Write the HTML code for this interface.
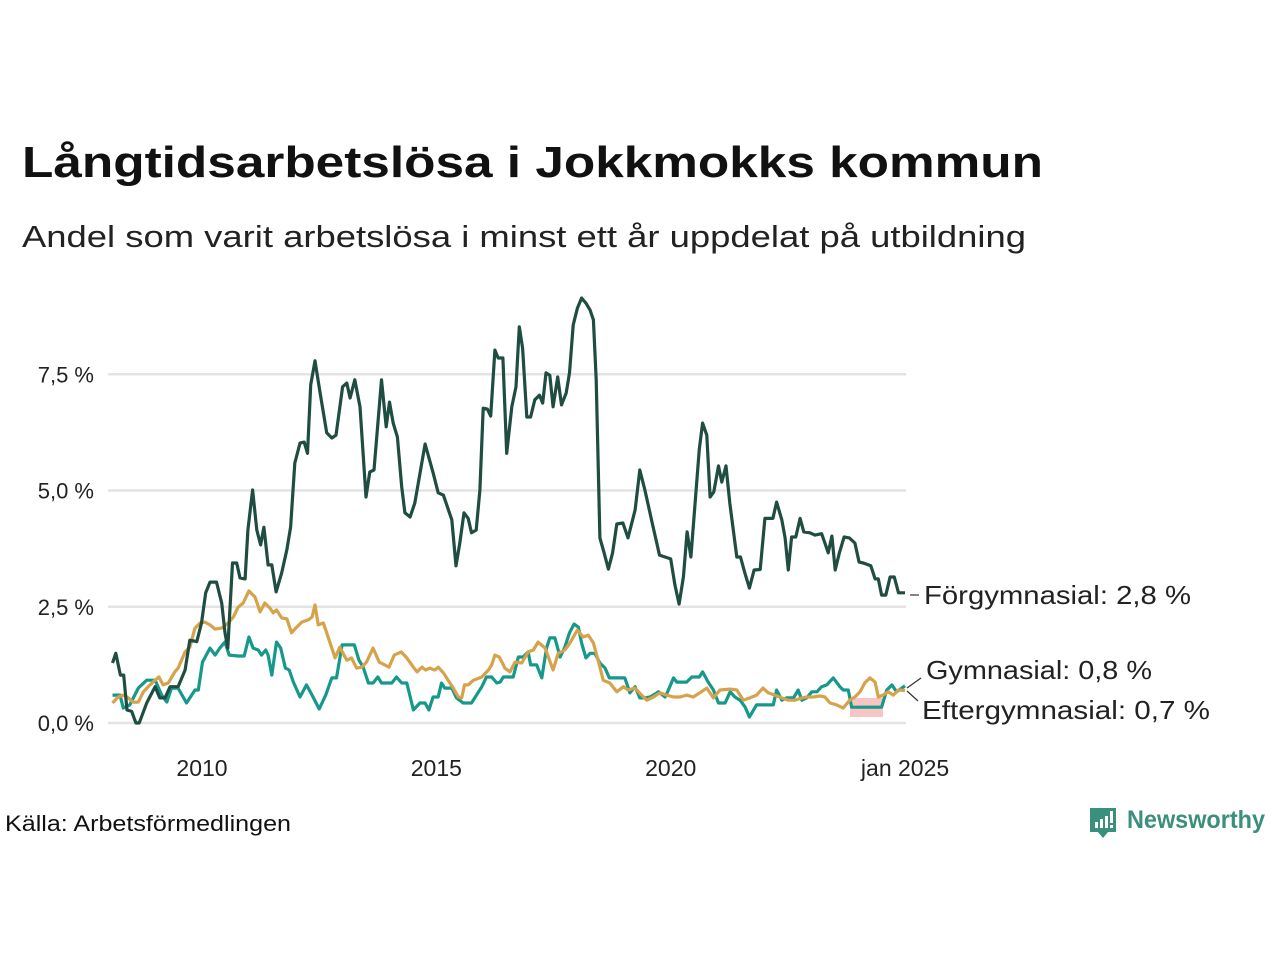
<!DOCTYPE html>
<html><head><meta charset="utf-8"><style>
html,body{margin:0;padding:0;background:#fff;}
svg{display:block;font-family:"Liberation Sans","DejaVu Sans",sans-serif;}
</style></head><body>
<svg id="chart" width="1280" height="960" viewBox="0 0 1280 960" xmlns="http://www.w3.org/2000/svg">
<text x="22" y="177" font-size="44" font-weight="bold" fill="#111" textLength="1021" lengthAdjust="spacingAndGlyphs">Långtidsarbetslösa i Jokkmokks kommun</text>
<text x="22" y="247" font-size="31" fill="#222" textLength="1004" lengthAdjust="spacingAndGlyphs">Andel som varit arbetslösa i minst ett år uppdelat på utbildning</text>
<g id="grid"></g>
<g id="yticks"></g>
<g id="xticks"></g>
<rect x="850" y="698" width="33" height="19" fill="#f9c4c4"/>
<g id="series"></g>
<g font-size="26" fill="#222">
<line x1="910" y1="595" x2="919" y2="595" stroke="#333" stroke-width="1.2"/>
<line x1="907" y1="688" x2="921" y2="678" stroke="#333" stroke-width="1.2"/>
<line x1="907" y1="691" x2="918" y2="701" stroke="#333" stroke-width="1.2"/>
<text x="924" y="604" textLength="267" lengthAdjust="spacingAndGlyphs">Förgymnasial: 2,8 %</text>
<text x="926" y="679" textLength="226" lengthAdjust="spacingAndGlyphs">Gymnasial: 0,8 %</text>
<text x="922" y="719" textLength="288" lengthAdjust="spacingAndGlyphs">Eftergymnasial: 0,7 %</text>
</g>
<text x="5" y="831" font-size="22" fill="#111" textLength="286" lengthAdjust="spacingAndGlyphs">Källa: Arbetsförmedlingen</text>
<g>
<path d="M1090 808 h26 v24 h-8 l-5 6 l-5 -6 h-8 z" fill="#3a8f7d"/>
<rect x="1095" y="822" width="3" height="6" fill="#fff"/><rect x="1100" y="819" width="3" height="9" fill="#fff"/><rect x="1105" y="816" width="3" height="12" fill="#fff"/><rect x="1110" y="811" width="3" height="12" fill="#fff"/><rect x="1110" y="825" width="3" height="3" fill="#fff"/>
<text x="1127" y="828" font-size="25" font-weight="bold" fill="#3a8f7d" textLength="138" lengthAdjust="spacingAndGlyphs">Newsworthy</text>
</g>
</svg>
<script>
const yTicks = [0, 2.5, 5, 7.5];
const yTickLabels = ["0,0 %", "2,5 %", "5,0 %", "7,5 %"];
const xTicks = [2010, 2015, 2020, 2025];
const xTickLabels = ["2010", "2015", "2020", "jan 2025"];

const forgDates = [2008.09,2008.16,2008.26,2008.33,2008.40,2008.50,2008.59,2008.66,2008.82,2009.00,2009.10,2009.21,2009.32,2009.49,2009.64,2009.74,2009.89,2009.99,2010.08,2010.17,2010.31,2010.42,2010.49,2010.55,2010.65,2010.74,2010.81,2010.92,2010.98,2011.08,2011.17,2011.25,2011.32,2011.41,2011.49,2011.58,2011.70,2011.81,2011.89,2011.98,2012.09,2012.18,2012.25,2012.32,2012.41,2012.52,2012.66,2012.77,2012.86,2013.00,2013.09,2013.16,2013.26,2013.37,2013.50,2013.58,2013.67,2013.83,2013.93,2014.00,2014.08,2014.17,2014.26,2014.33,2014.44,2014.54,2014.76,2014.93,2015.04,2015.15,2015.33,2015.42,2015.50,2015.59,2015.68,2015.75,2015.85,2015.93,2016.00,2016.09,2016.16,2016.25,2016.32,2016.42,2016.50,2016.61,2016.70,2016.77,2016.84,2016.93,2017.01,2017.10,2017.20,2017.27,2017.34,2017.42,2017.49,2017.59,2017.67,2017.77,2017.84,2017.92,2018.01,2018.10,2018.19,2018.28,2018.35,2018.41,2018.49,2018.58,2018.67,2018.76,2018.85,2018.98,2019.09,2019.24,2019.34,2019.45,2019.59,2019.76,2019.88,2020.00,2020.09,2020.18,2020.27,2020.35,2020.43,2020.52,2020.61,2020.68,2020.77,2020.84,2020.92,2021.02,2021.09,2021.18,2021.26,2021.41,2021.49,2021.58,2021.68,2021.78,2021.91,2022.01,2022.18,2022.26,2022.37,2022.44,2022.51,2022.58,2022.67,2022.76,2022.84,2022.97,2023.08,2023.22,2023.29,2023.36,2023.44,2023.51,2023.60,2023.70,2023.81,2023.93,2024.02,2024.11,2024.27,2024.36,2024.43,2024.50,2024.59,2024.68,2024.77,2024.86,2025.00];
const forgValues = [1.29,1.5,1.03,1.03,0.28,0.25,0,0,0.43,0.78,0.54,0.54,0.78,0.78,1.14,1.78,1.75,2.15,2.8,3.03,3.03,2.58,1.94,1.61,3.44,3.44,3.12,3.1,4.15,5.01,4.15,3.83,4.21,3.4,3.4,2.82,3.23,3.72,4.21,5.59,6.02,6.04,5.8,7.27,7.79,7.1,6.24,6.13,6.19,7.23,7.31,6.99,7.38,6.8,4.86,5.4,5.44,7.38,6.37,6.9,6.45,6.15,5.08,4.52,4.43,4.73,6.0,5.38,4.95,4.9,4.37,3.38,3.87,4.52,4.4,4.09,4.15,5.01,6.77,6.75,6.6,8.02,7.85,7.85,5.8,6.8,7.23,8.52,8.06,6.58,6.58,6.95,7.05,6.88,7.53,7.48,6.8,7.44,6.84,7.1,7.53,8.56,8.92,9.14,9.03,8.88,8.67,7.38,3.98,3.66,3.31,3.66,4.28,4.30,3.98,4.58,5.44,5.01,4.37,3.61,3.57,3.53,2.97,2.56,3.14,4.11,3.57,4.73,5.89,6.45,6.19,4.86,4.97,5.53,5.18,5.53,4.73,3.57,3.57,3.23,2.9,3.29,3.3,4.4,4.4,4.75,4.37,3.98,3.29,4.0,4.0,4.4,4.11,4.09,4.04,4.07,3.87,3.66,4.02,3.29,3.66,4.0,3.98,3.87,3.46,3.44,3.38,3.1,3.1,2.75,2.75,3.14,3.14,2.8,2.8];

const gymDates = [2008.09,2008.25,2008.32,2008.46,2008.64,2008.82,2009.00,2009.14,2009.25,2009.35,2009.49,2009.67,2009.85,2009.92,2010.01,2010.17,2010.28,2010.38,2010.49,2010.58,2010.77,2010.90,2011.00,2011.09,2011.20,2011.27,2011.36,2011.41,2011.49,2011.59,2011.68,2011.78,2011.86,2011.95,2012.09,2012.23,2012.35,2012.50,2012.64,2012.77,2012.87,2012.99,2013.25,2013.35,2013.44,2013.55,2013.65,2013.75,2013.83,2014.05,2014.15,2014.26,2014.37,2014.51,2014.65,2014.76,2014.84,2014.93,2015.04,2015.11,2015.18,2015.33,2015.43,2015.57,2015.75,2015.97,2016.07,2016.18,2016.29,2016.36,2016.43,2016.50,2016.64,2016.75,2016.85,2016.96,2017.01,2017.14,2017.25,2017.35,2017.42,2017.53,2017.64,2017.74,2017.84,2017.94,2018.03,2018.10,2018.19,2018.28,2018.38,2018.49,2018.60,2018.69,2019.02,2019.13,2019.24,2019.34,2019.45,2019.56,2019.74,2019.88,2019.95,2020.06,2020.13,2020.34,2020.45,2020.61,2020.68,2020.80,2020.91,2021.02,2021.16,2021.27,2021.37,2021.48,2021.59,2021.68,2021.83,2022.19,2022.26,2022.37,2022.47,2022.62,2022.72,2022.80,2022.90,2023.01,2023.12,2023.22,2023.33,2023.47,2023.61,2023.68,2023.79,2023.86,2024.50,2024.61,2024.72,2024.82,2025.00];
const gymValues = [0.6,0.6,0.32,0.39,0.75,0.92,0.92,0.6,0.45,0.75,0.75,0.43,0.71,0.71,1.31,1.61,1.46,1.61,1.74,1.46,1.44,1.44,1.85,1.61,1.57,1.46,1.57,1.46,1.03,1.74,1.61,1.18,1.14,0.88,0.56,0.82,0.6,0.3,0.6,0.97,0.97,1.68,1.68,1.35,1.2,0.86,0.86,0.99,0.86,0.86,0.99,0.86,0.86,0.28,0.43,0.43,0.28,0.56,0.56,0.86,0.75,0.75,0.54,0.43,0.43,0.78,0.99,0.99,0.86,0.88,0.99,0.99,0.99,1.42,1.42,1.53,1.25,1.25,0.97,1.61,1.83,1.83,1.42,1.63,1.94,2.13,2.06,1.72,1.4,1.5,1.5,1.29,1.18,0.97,0.97,0.65,0.78,0.54,0.54,0.56,0.67,0.56,0.71,0.97,0.88,0.88,0.99,0.99,1.1,0.88,0.71,0.43,0.43,0.67,0.56,0.49,0.34,0.13,0.39,0.39,0.71,0.49,0.54,0.54,0.71,0.49,0.54,0.67,0.67,0.78,0.82,0.97,0.78,0.71,0.71,0.34,0.34,0.71,0.82,0.67,0.8];

const eftDates = [2008.09,2008.21,2008.32,2008.43,2008.53,2008.64,2008.75,2008.89,2009.00,2009.08,2009.17,2009.28,2009.42,2009.49,2009.64,2009.74,2009.85,2009.96,2010.06,2010.17,2010.28,2010.42,2010.56,2010.67,2010.77,2010.88,2011.00,2011.13,2011.24,2011.34,2011.45,2011.52,2011.59,2011.70,2011.81,2011.91,2012.00,2012.13,2012.27,2012.35,2012.41,2012.48,2012.59,2012.69,2012.84,2012.94,2013.09,2013.19,2013.30,2013.41,2013.51,2013.65,2013.78,2013.90,2013.99,2014.10,2014.25,2014.37,2014.51,2014.59,2014.69,2014.77,2014.86,2014.97,2015.04,2015.15,2015.25,2015.36,2015.47,2015.54,2015.60,2015.68,2015.79,2015.97,2016.11,2016.18,2016.25,2016.34,2016.43,2016.46,2016.57,2016.68,2016.82,2016.96,2017.07,2017.17,2017.32,2017.49,2017.60,2017.74,2017.85,2018.01,2018.13,2018.24,2018.35,2018.45,2018.56,2018.70,2018.85,2018.99,2019.09,2019.24,2019.38,2019.49,2019.63,2019.77,2019.91,2020.06,2020.20,2020.34,2020.48,2020.62,2020.77,2020.91,2021.05,2021.27,2021.41,2021.55,2021.69,2021.83,2021.97,2022.08,2022.22,2022.37,2022.51,2022.65,2022.80,2022.90,2023.04,2023.18,2023.29,2023.40,2023.54,2023.68,2023.82,2023.93,2024.04,2024.14,2024.25,2024.36,2024.43,2024.53,2024.64,2024.75,2024.86,2025.00];
const eftValues = [0.43,0.56,0.6,0.54,0.45,0.45,0.67,0.82,0.92,0.99,0.82,0.86,1.1,1.18,1.53,1.63,2.04,2.15,2.17,2.11,2.02,2.04,2.15,2.28,2.49,2.58,2.84,2.71,2.39,2.58,2.47,2.37,2.43,2.26,2.24,1.94,2.04,2.17,2.22,2.28,2.54,2.11,2.15,1.85,1.4,1.63,1.35,1.4,1.18,1.2,1.31,1.61,1.31,1.25,1.2,1.46,1.53,1.4,1.2,1.1,1.2,1.14,1.18,1.14,1.2,1.08,0.92,0.75,0.56,0.54,0.82,0.82,0.92,0.99,1.14,1.25,1.46,1.42,1.25,1.18,1.1,1.31,1.29,1.53,1.57,1.74,1.61,1.14,1.5,1.57,1.72,2.0,1.85,1.89,1.72,1.35,0.92,0.86,0.67,0.78,0.71,0.75,0.6,0.49,0.56,0.65,0.6,0.56,0.56,0.6,0.56,0.65,0.75,0.54,0.71,0.73,0.71,0.49,0.54,0.6,0.75,0.65,0.6,0.54,0.49,0.49,0.54,0.56,0.56,0.58,0.56,0.43,0.39,0.32,0.49,0.56,0.67,0.86,0.97,0.88,0.56,0.6,0.67,0.6,0.71,0.7];

const NS = "http://www.w3.org/2000/svg";
function xScale(d){ return 202 + (d - 2010) * 46.87; }
function yScale(v){ return 723 - v * 46.5; }

const grid = document.getElementById('grid');
const yg = document.getElementById('yticks');
yTicks.forEach((t, i) => {
  const l = document.createElementNS(NS, 'line');
  
  
  l.setAttribute('x1', 108); l.setAttribute('x2', 906);
  l.setAttribute('y1', yScale(t)); l.setAttribute('y2', yScale(t));
  l.setAttribute('stroke', '#e3e3e3'); l.setAttribute('stroke-width', 2.5);
  grid.appendChild(l);
  const tx = document.createElementNS(NS, 'text');
  
  
  tx.setAttribute('x', 94); tx.setAttribute('y', yScale(t) + 8);
  tx.setAttribute('text-anchor', 'end'); tx.setAttribute('font-size', 22); tx.setAttribute('fill', '#222');
  tx.textContent = yTickLabels[i];
  yg.appendChild(tx);
});
const xg = document.getElementById('xticks');
xTicks.forEach((t, i) => {
  const tx = document.createElementNS(NS, 'text');
  
  
  tx.setAttribute('x', xScale(t)); tx.setAttribute('y', 776);
  tx.setAttribute('text-anchor', 'middle'); tx.setAttribute('font-size', 23); tx.setAttribute('fill', '#222');
  tx.textContent = xTickLabels[i];
  xg.appendChild(tx);
});

const sg = document.getElementById('series');
function drawLine(dates, vals, color, name){
  const p = document.createElementNS(NS, 'path');
  
  
  p.setAttribute('d', dates.map((d, i) => (i ? 'L' : 'M') + xScale(d).toFixed(1) + ' ' + yScale(vals[i]).toFixed(1)).join(' '));
  p.setAttribute('fill', 'none'); p.setAttribute('stroke', color);
  p.setAttribute('stroke-width', 3.2); p.setAttribute('stroke-linejoin', 'round');
  sg.appendChild(p);
}
drawLine(gymDates, gymValues, '#16988a', 'gymnasial-line');
drawLine(eftDates, eftValues, '#d6a24a', 'eftergymnasial-line');
drawLine(forgDates, forgValues, '#1f4d42', 'forgymnasial-line');
</script>
</body></html>
